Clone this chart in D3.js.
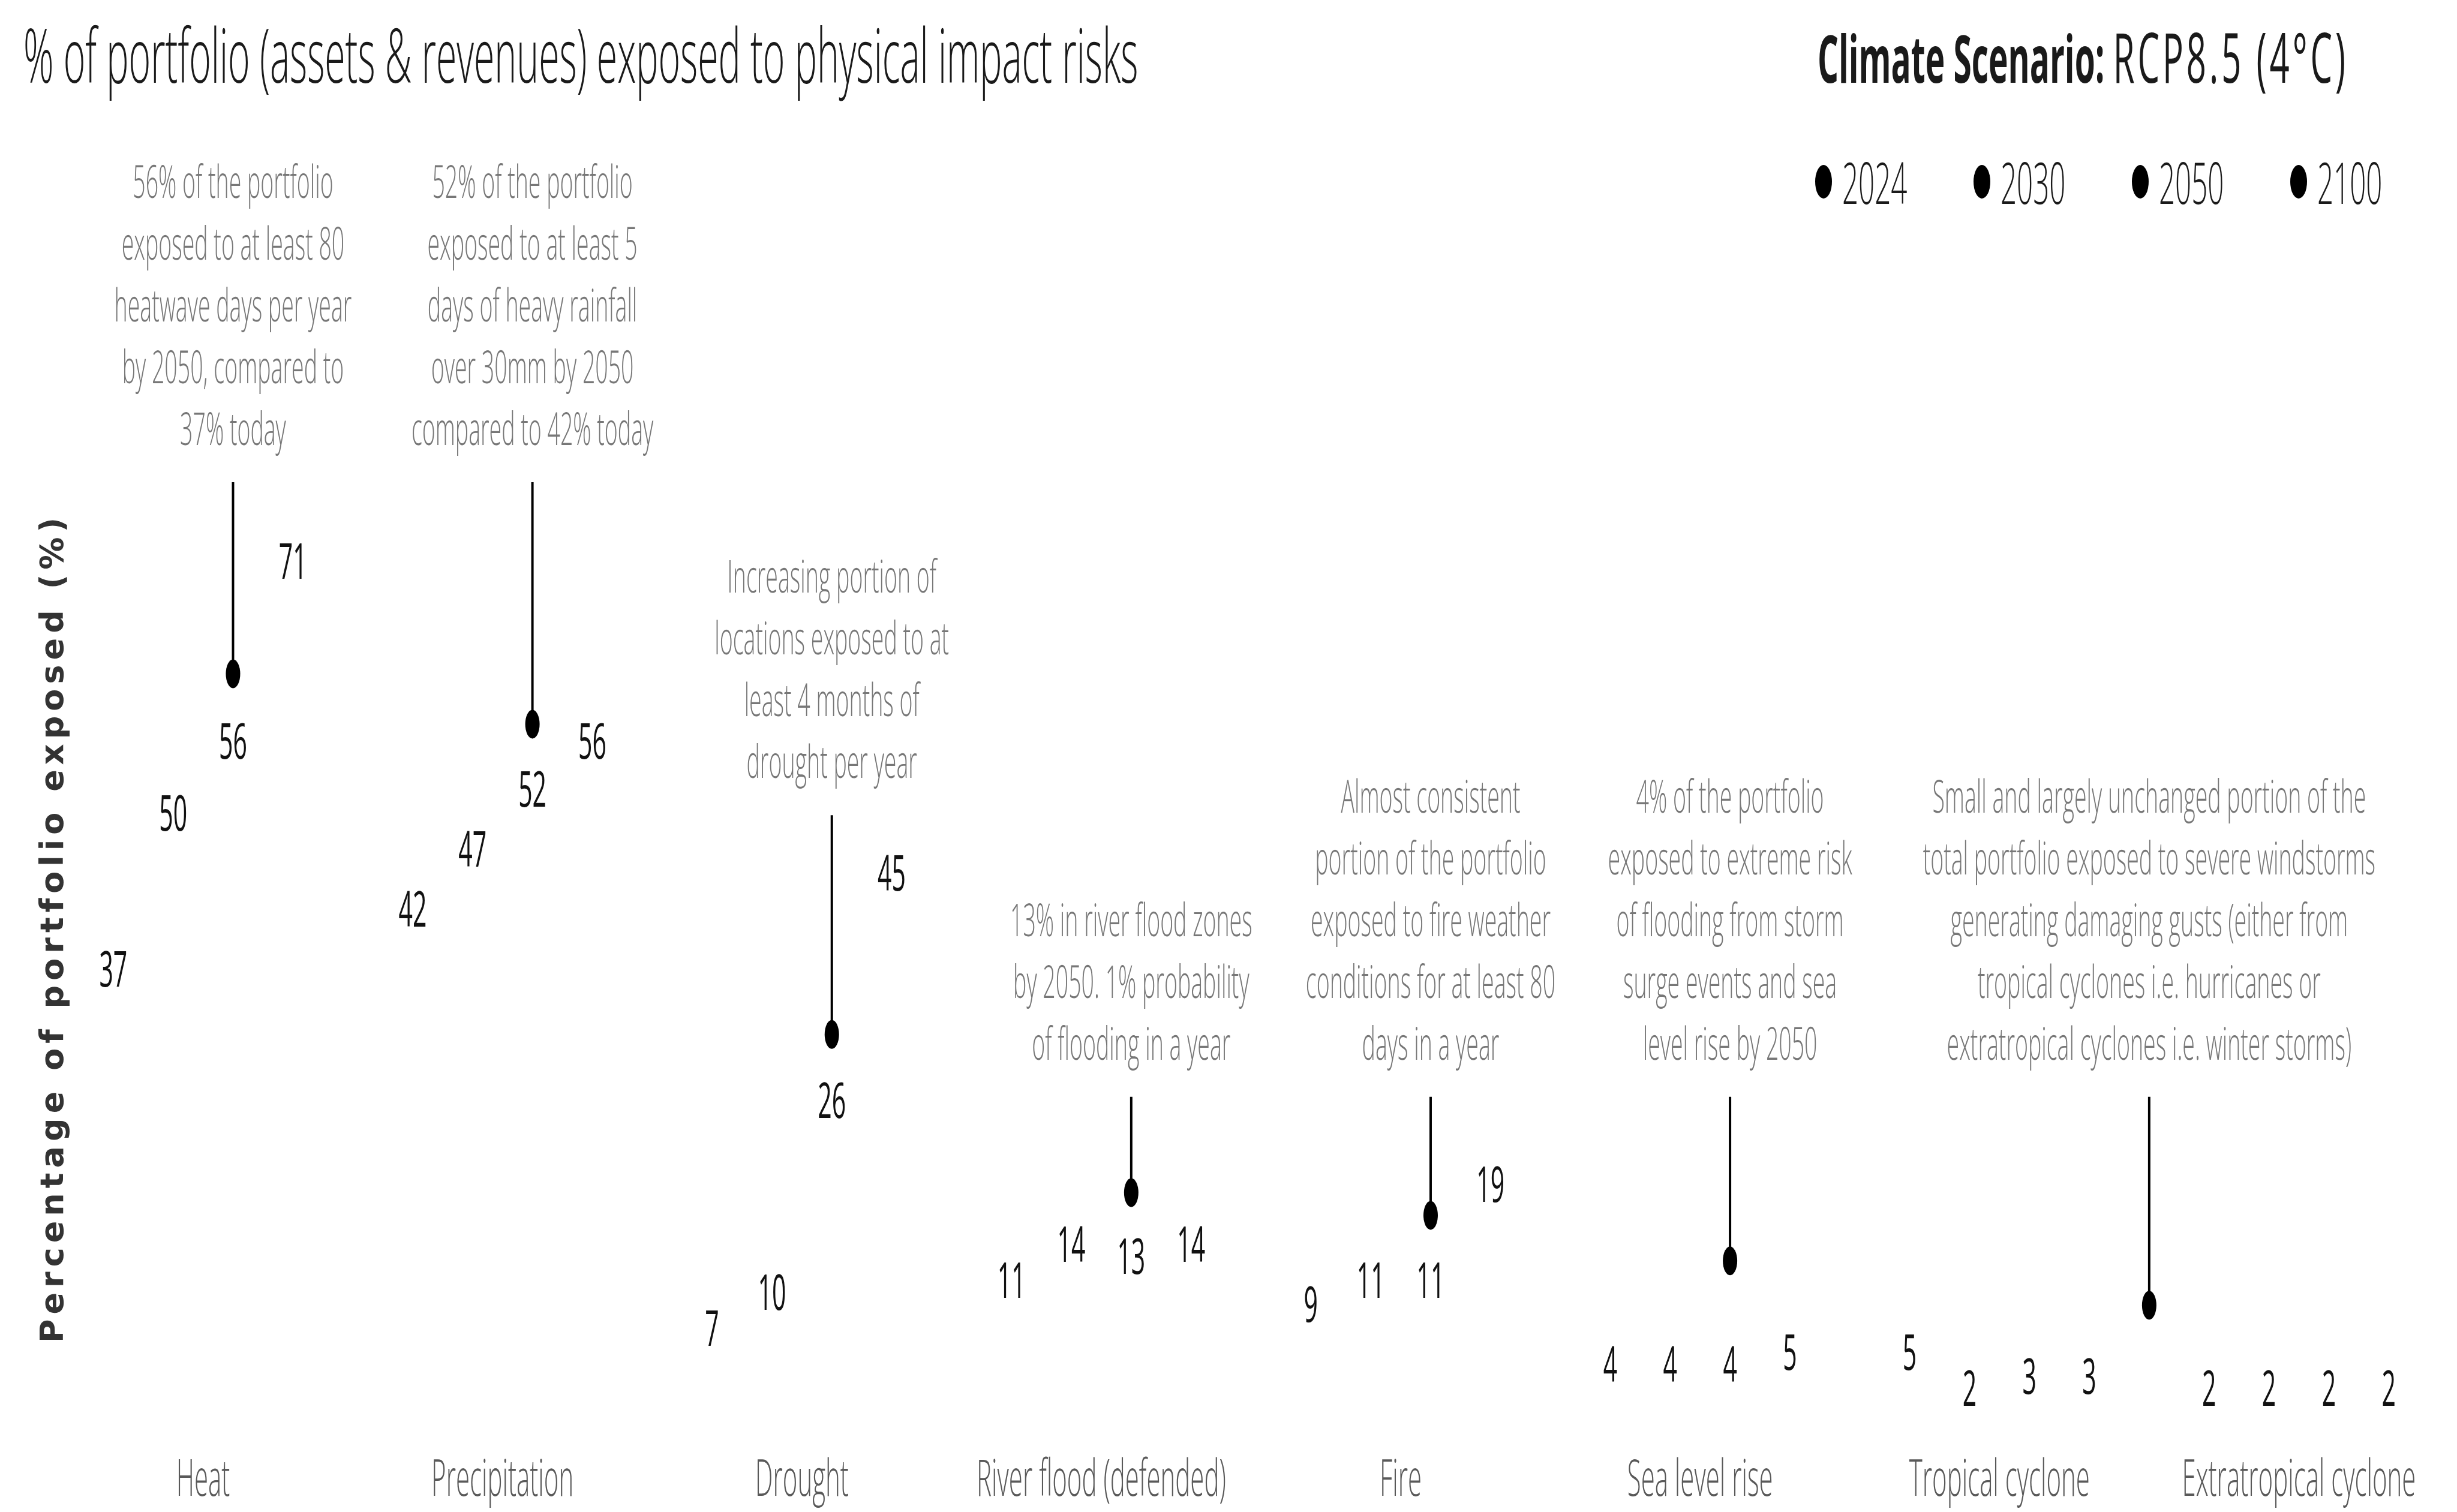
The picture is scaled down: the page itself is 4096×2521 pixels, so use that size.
<!DOCTYPE html>
<html>
<head>
<meta charset="utf-8">
<script src="https://cdn.jsdelivr.net/npm/d3@7"></script>
<style>
  html, body { margin: 0; padding: 0; background: #fff; }
  svg { display: block; }
</style>
</head>
<body>
<svg id="chart" width="4096" height="2521"></svg>
<script>
// categories and years
const categories = ['Heat', 'Precipitation', 'Drought', 'River flood (defended)', 'Fire',
  'Sea level rise', 'Tropical cyclone', 'Extratropical cyclone'];
const years = ['2024', '2030', '2050', '2100'];

// % of portfolio exposed, one array per year
const v2024 = [37, 42, 7, 11, 9, 4, 5, 2];
const v2030 = [50, 47, 10, 14, 11, 4, 2, 2];
const v2050 = [56, 52, 26, 13, 11, 4, 3, 2];
const v2100 = [71, 56, 45, 14, 19, 5, 3, 2];

// callouts: which categories they sit over, where the pin line starts and where the dot sits (in %)
const noteCats = [['Heat'], ['Precipitation'], ['Drought'], ['River flood (defended)'], ['Fire'],
  ['Sea level rise'], ['Tropical cyclone', 'Extratropical cyclone']];
const noteTop = [77.5, 77.5, 49.7, 26.2, 26.2, 26.2, 26.2];
const notePin = [61.5, 57.3, 31.4, 18.2, 16.3, 12.5, 8.8];
const noteText = [
  ['56% of the portfolio', 'exposed to at least 80', 'heatwave days per year', 'by 2050, compared to', '37% today'],
  ['52% of the portfolio', 'exposed to at least 5', 'days of heavy rainfall', 'over 30mm by 2050', 'compared to 42% today'],
  ['Increasing portion of', 'locations exposed to at', 'least 4 months of', 'drought per year'],
  ['13% in river flood zones', 'by 2050. 1% probability', 'of flooding in a year'],
  ['Almost consistent', 'portion of the portfolio', 'exposed to fire weather', 'conditions for at least 80', 'days in a year'],
  ['4% of the portfolio', 'exposed to extreme risk', 'of flooding from storm', 'surge events and sea', 'level rise by 2050'],
  ['Small and largely unchanged portion of the', 'total portfolio exposed to severe windstorms',
    'generating damaging gusts (either from', 'tropical cyclones i.e. hurricanes or',
    'extratropical cyclones i.e. winter storms)']
];

const series = [v2024, v2030, v2050, v2100];

const SX = 0.5; // the whole picture is squeezed sideways
const FONT = "'Open Sans', 'Liberation Sans', sans-serif";

const svg = d3.select('#chart');
svg.append('rect').attr('width', 4096).attr('height', 2521).attr('fill', '#fff');
const g = svg.append('g').attr('transform', `scale(${SX},1)`);

const x0 = d3.scaleBand().domain(categories).range([89 / SX, 4082 / SX]).padding(0);
const x1 = d3.scaleBand().domain(years).range([0, x0.bandwidth()]).paddingInner(0).paddingOuter(0.5);
const y = d3.scaleLinear().domain([0, 80]).range([2352, 754]);
const cx = (c, yr) => x0(c) + x1(yr) + x1.bandwidth() / 2;

// titles
g.append('text')
  .attr('x', 39 / SX).attr('y', 138)
  .attr('font-family', FONT).attr('font-size', 125).attr('font-weight', 300)
  .attr('fill', '#1a1a1a')
  .text('% of portfolio (assets & revenues) exposed to physical impact risks');

const rt = g.append('text')
  .attr('x', 3030 / SX).attr('y', 138)
  .attr('font-family', FONT).attr('fill', '#1a1a1a');
rt.append('tspan').attr('font-size', 110).attr('font-weight', 700).text('Climate Scenario: ');
rt.append('tspan').attr('font-size', 116).attr('font-weight', 400).attr('letter-spacing', 10)
  .text('RCP8.5 (4°C)');

// legend
const leg = g.selectAll('.leg').data(years).join('g')
  .attr('class', 'leg')
  .attr('transform', (d, i) => `translate(${(3040 + i * 264) / SX},303)`);
leg.append('circle').attr('r', 28).attr('fill', '#000');
leg.append('text')
  .attr('x', 31 / SX).attr('dominant-baseline', 'central')
  .attr('font-family', FONT).attr('font-size', 95).attr('font-weight', 300).attr('fill', '#1a1a1a')
  .text(d => d);

// category axis
const xAxis = g.append('g')
  .attr('transform', 'translate(0,2434)')
  .call(d3.axisBottom(x0).tickSize(0).tickPadding(0));
xAxis.select('.domain').remove();
xAxis.selectAll('text')
  .attr('font-family', FONT).attr('font-size', 84).attr('font-weight', 300).attr('fill', '#595959');

// y axis title (not squeezed)
svg.append('text')
  .attr('transform', 'translate(86,1547) rotate(-90)')
  .attr('text-anchor', 'middle').attr('dominant-baseline', 'central')
  .attr('font-family', "'DejaVu Sans', sans-serif").attr('font-weight', 700)
  .attr('font-size', 54).attr('letter-spacing', 8).attr('fill', '#333')
  .text('Percentage of portfolio exposed (%)');

// callouts
noteText.forEach((lines, k) => {
  const cats = noteCats[k];
  const nx = cats.length === 1 ? cx(cats[0], '2050')
    : d3.mean(cats, c => x0(c) + x0.bandwidth() / 2);
  const top = y(noteTop[k]);
  g.append('text')
    .attr('text-anchor', 'middle')
    .attr('font-family', FONT).attr('font-size', 75).attr('font-weight', 300).attr('fill', '#777')
    .selectAll('tspan').data(lines).join('tspan')
    .attr('x', nx)
    .attr('y', (d, i) => top - 91 - (lines.length - 1 - i) * 103)
    .attr('dominant-baseline', 'central')
    .text(d => d);
  g.append('line')
    .attr('x1', nx).attr('x2', nx)
    .attr('y1', top).attr('y2', y(notePin[k]))
    .attr('stroke', '#000').attr('stroke-width', 8);
  g.append('circle')
    .attr('cx', nx).attr('cy', y(notePin[k])).attr('r', 24).attr('fill', '#000');
});

// value labels for each year
years.forEach((yr, i) => {
  g.append('g').selectAll('text')
    .data(categories.map((c, j) => ({ c: c, v: series[i][j] })))
    .join('text')
    .attr('x', d => cx(d.c, yr))
    .attr('y', d => y(d.v))
    .attr('text-anchor', 'middle').attr('dominant-baseline', 'central')
    .attr('font-family', FONT).attr('font-size', 82).attr('fill', '#111')
    .text(d => d.v);
});
</script>
</body>
</html>
